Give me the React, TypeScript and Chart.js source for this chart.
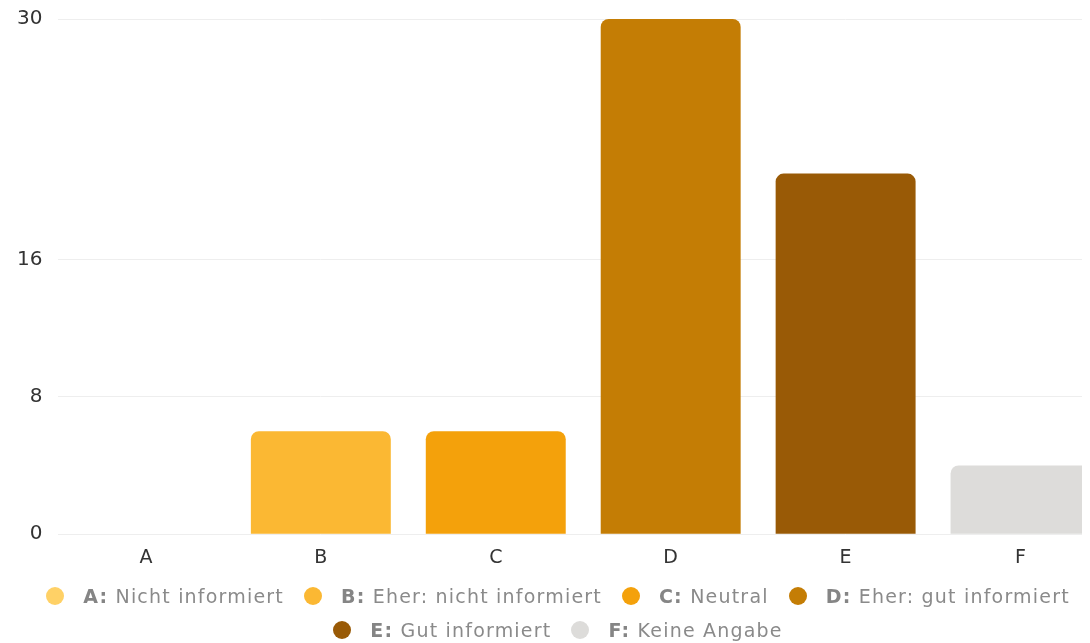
import React, { useEffect, useRef } from "react";
import { Chart, registerables } from "chart.js";

Chart.register(...registerables);

const categories = ["A", "B", "C", "D", "E", "F"];
const descriptions = [
  "Nicht informiert",
  "Eher: nicht informiert",
  "Neutral",
  "Eher: gut informiert",
  "Gut informiert",
  "Keine Angabe",
];
const values = [0, 6, 6, 30, 21, 4];
const colors = ["#FFD166", "#FBB833", "#F4A10B", "#C47D05", "#995A06", "#DDDCDA"];
const yTicks = [0, 8, 16, 30];

const FONT = "'DejaVu Sans', Lato, sans-serif";

export default function App() {
  const ref = useRef<HTMLCanvasElement | null>(null);

  useEffect(() => {
    if (!ref.current) return;
    const chart = new Chart(ref.current, {
      type: "bar",
      data: {
        labels: categories,
        datasets: [
          {
            data: values,
            backgroundColor: colors,
            borderRadius: 8,
            borderSkipped: "start",
            barPercentage: 0.8,
            categoryPercentage: 1,
          },
        ],
      },
      options: {
        animation: false,
        responsive: false,
        layout: { padding: { left: 9, right: 0, top: 0, bottom: 0 } },
        plugins: { legend: { display: false }, tooltip: { enabled: false } },
        scales: {
          x: {
            grid: { display: false, drawTicks: false },
            border: { display: false },
            ticks: { color: "#333", padding: 12, font: { family: FONT, size: 19 } },
          },
          y: {
            min: 0,
            max: 30,
            afterBuildTicks: (axis: any) => {
              axis.ticks = yTicks.map((v) => ({ value: v }));
            },
            grid: { color: "#EEEEEE", drawTicks: true, tickLength: 16, tickColor: "rgba(0,0,0,0)" },
            border: { display: false },
            ticks: { color: "#333", padding: 0, font: { family: FONT, size: 20, lineHeight: 1.1 } },
          },
        },
      },
    });
    return () => chart.destroy();
  }, []);

  return (
    <div style={{ width: 1082, overflow: "hidden" }}>
      <div style={{ width: 1100 }}>
        <canvas ref={ref} width={1100} height={573} style={{ display: "block" }} />
        <div
          style={{
            marginTop: -2,
            display: "flex",
            flexWrap: "wrap",
            justifyContent: "center",
            padding: "0 20px",
            fontFamily: FONT,
            fontSize: 19,
            letterSpacing: "1.2px",
            color: "#8a8a8a",
          }}
        >
          {categories.map((c, i) => (
            <div
              key={c}
              style={{
                display: "flex",
                alignItems: "center",
                height: 34,
                margin: "0 10px",
              }}
            >
              <span
                style={{
                  display: "inline-block",
                  width: 18,
                  height: 18,
                  borderRadius: "50%",
                  background: colors[i],
                  marginRight: 19,
                }}
              />
              <span>
                <b style={{ fontWeight: 700, color: "#858585" }}>{c}:</b> {descriptions[i]}
              </span>
            </div>
          ))}
        </div>
      </div>
    </div>
  );
}
